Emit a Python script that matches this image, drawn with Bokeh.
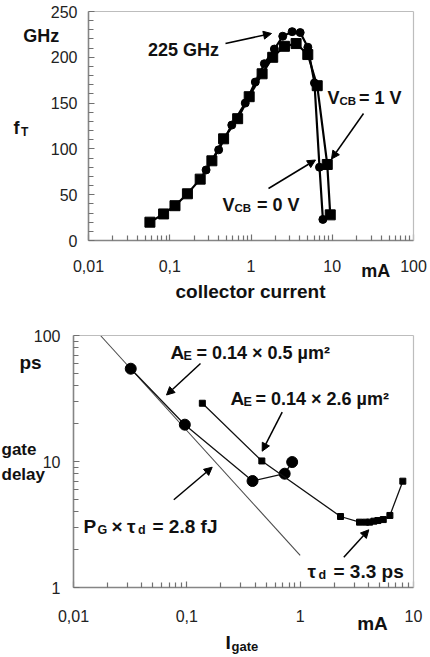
from bokeh.plotting import figure
from bokeh.layouts import column
from bokeh.models import (FixedTicker, CustomJSTickFormatter, Label, Arrow,
                          NormalHead, Range1d, LogAxis, LinearAxis)
from bokeh.embed import file_html
from bokeh.resources import INLINE

# ---------------- data: top panel (fT vs collector current) ----------------
ic_vcb0 = [0.28, 0.40, 0.58, 0.85, 1.13, 1.46, 1.94, 2.46, 3.21, 4.03, 5.01, 6.04, 6.97, 7.67]
ft_vcb0 = [77, 99, 126, 150, 173, 193, 209, 223, 228, 227, 211, 172, 80, 23]
ic_vcb1 = [0.057, 0.084, 0.116, 0.165, 0.237, 0.33, 0.46, 0.685, 0.95, 1.37, 1.85,
           2.58, 3.59, 5.0, 6.53, 8.68, 9.45]
ft_vcb1 = [20, 29, 38, 51, 67, 87, 111, 133, 157, 182, 200, 212, 215, 203, 169, 83, 28]

top_x_ticks = [0.01, 0.1, 1, 10, 100]
top_y_ticks = [0, 50, 100, 150, 200, 250]

# ---------------- data: bottom panel (gate delay vs gate current) ----------
ig_ae05 = [0.032, 0.096, 0.38, 0.73, 0.85]
td_ae05 = [54.5, 19.6, 7.0, 8.0, 9.9]
ig_ae26 = [0.137, 0.459, 2.27, 3.34, 3.78, 4.1, 4.47, 4.85, 5.41, 6.19, 8.05]
td_ae26 = [29.0, 10.1, 3.66, 3.30, 3.30, 3.30, 3.36, 3.40, 3.46, 3.73, 6.98]
ig_energy = [0.0173, 1.0]
td_energy = [100, 1.8]

bot_x_ticks = [0.01, 0.1, 1, 10]
bot_y_ticks = [1, 10, 100]

# minor tick positions
log_minor_x = [m * 10.0 ** k for k in range(-2, 2) for m in range(2, 10)]
log_minor_y = [m * 10.0 ** k for k in range(0, 2) for m in range(2, 10)]
lin_minor_y = [v for v in range(10, 250, 10) if v % 50]

FONT = "Liberation Sans"
W = 430
TOP_H, BOT_H = 320, 337
TEXT_LIFT = 6  # baseline correction for label rendering

# ---------------- layout geometry (pixels of the page) ----------------
T_X0, T_DEC = 88.0, (413.0 - 88.0) / 4
T_Y0, T_YS = 240.0, (240.0 - 11.0) / 250.0
B_X0, B_DEC = 73.0, (413.0 - 73.0) / 3
B_Y0, B_YDEC = 587.0, (587.0 - 335.0) / 2
B_TOP = TOP_H


def tpos(px, py):
    return 10 ** ((px - T_X0) / T_DEC - 2), (T_Y0 - py) / T_YS


def bpos(px, py):
    return 10 ** ((px - B_X0) / B_DEC - 2), 10 ** ((B_Y0 - py) / B_YDEC)


fmt_code = "return tick < 1 ? String(tick).replace('.', ',') : String(tick);"


def style_axis(ax, standoff):
    ax.axis_line_color = "#858585"
    ax.axis_line_width = 1.6
    ax.major_tick_in = 6
    ax.major_tick_out = 0
    ax.minor_tick_in = 5
    ax.minor_tick_out = 0
    ax.major_tick_line_color = "#707070"
    ax.minor_tick_line_color = "#707070"
    ax.major_tick_line_width = 1.2
    ax.minor_tick_line_width = 1.2
    ax.major_label_text_font = FONT
    ax.major_label_text_font_size = "16px"
    ax.major_label_text_color = "#222222"
    ax.major_label_standoff = standoff


def border_axis(cls, loc, bounds):
    return cls(fixed_location=loc, bounds=bounds, ticker=FixedTicker(ticks=[]),
               axis_line_color="#bdbdbd", axis_line_width=1.2,
               major_tick_line_color=None, minor_tick_line_color=None,
               major_label_text_font_size="0px")


def base_fig(h, xr, yr, ytype):
    p = figure(width=W, height=h, x_axis_type="log", y_axis_type=ytype,
               x_range=xr, y_range=yr, toolbar_location=None,
               output_backend="svg", min_border=0, min_border_left=0,
               min_border_right=0, min_border_top=0, min_border_bottom=0)
    p.xgrid.visible = False
    p.ygrid.visible = False
    p.outline_line_color = None
    p.background_fill_color = "white"
    p.border_fill_color = "white"
    return p


def txt(p, conv, px, py, text, size=18, align="left", bold=True):
    x, y = conv(px, py - TEXT_LIFT)
    p.add_layout(Label(x=x, y=y, text=text, text_font=FONT,
                       text_font_size=f"{size}px",
                       text_font_style="bold" if bold else "normal",
                       text_align=align, text_baseline="alphabetic",
                       text_color="#111111"))


def arrow(p, a, b):
    p.add_layout(Arrow(end=NormalHead(size=8, fill_color="black", line_color="black"),
                       x_start=a[0], y_start=a[1], x_end=b[0], y_end=b[1],
                       line_color="black", line_width=1.5))


# ============================ top figure ============================
t_xr = Range1d(tpos(0, 0)[0], tpos(W, 0)[0])
t_yr = Range1d(tpos(0, TOP_H)[1], tpos(0, 0)[1])
top = base_fig(TOP_H, t_xr, t_yr, "linear")

xa = top.xaxis[0]
xa.fixed_location = top_y_ticks[0]
xa.bounds = (top_x_ticks[0], top_x_ticks[-1])
xa.ticker = FixedTicker(ticks=top_x_ticks, minor_ticks=log_minor_x)
xa.formatter = CustomJSTickFormatter(code=fmt_code)
style_axis(xa, 19)
ya = top.yaxis[0]
ya.fixed_location = top_x_ticks[0]
ya.bounds = (top_y_ticks[0], top_y_ticks[-1])
ya.ticker = FixedTicker(ticks=top_y_ticks, minor_ticks=lin_minor_y)
style_axis(ya, 11)
top.add_layout(border_axis(LogAxis, top_y_ticks[-1], (top_x_ticks[0], top_x_ticks[-1])), "above")
top.add_layout(border_axis(LinearAxis, top_x_ticks[-1], (top_y_ticks[0], top_y_ticks[-1])), "right")

top.line(ic_vcb0, ft_vcb0, line_color="black", line_width=2.2)
top.scatter(ic_vcb0, ft_vcb0, marker="circle", size=8, color="black")
top.line(ic_vcb1, ft_vcb1, line_color="black", line_width=2.2)
top.scatter(ic_vcb1, ft_vcb1, marker="square", size=10, color="black")

txt(top, tpos, 22.7, 41.7, "GHz")
txt(top, tpos, 13, 133, "f")
txt(top, tpos, 20.5, 137, "T", size=12)
txt(top, tpos, 147.5, 55, "225 GHz")
arrow(top, tpos(225, 43), tpos(271, 33))
txt(top, tpos, 327, 103.5, "V")
txt(top, tpos, 339, 106.5, "CB", size=11.5)
txt(top, tpos, 358.5, 103.5, "= 1 V")
arrow(top, tpos(363, 113), tpos(331, 158.5))
txt(top, tpos, 222, 210, "V")
txt(top, tpos, 234, 213, "CB", size=11.5)
txt(top, tpos, 256.5, 210, "= 0 V")
arrow(top, tpos(268, 188), tpos(315, 159.5))
txt(top, tpos, 360.7, 276.7, "mA")
txt(top, tpos, 250, 297, "collector current", size=19, align="center")

# ============================ bottom figure ============================
b_xr = Range1d(bpos(0, B_TOP)[0], bpos(W, B_TOP)[0])
b_yr = Range1d(bpos(0, B_TOP + BOT_H)[1], bpos(0, B_TOP)[1])
bot = base_fig(BOT_H, b_xr, b_yr, "log")

xb = bot.xaxis[0]
xb.fixed_location = bot_y_ticks[0]
xb.bounds = (bot_x_ticks[0], bot_x_ticks[-1])
xb.ticker = FixedTicker(ticks=bot_x_ticks, minor_ticks=log_minor_x[:24])
xb.formatter = CustomJSTickFormatter(code=fmt_code)
style_axis(xb, 22)
yb = bot.yaxis[0]
yb.fixed_location = bot_x_ticks[0]
yb.bounds = (bot_y_ticks[0], bot_y_ticks[-1])
yb.ticker = FixedTicker(ticks=bot_y_ticks, minor_ticks=log_minor_y)
yb.formatter = CustomJSTickFormatter(code=fmt_code)
style_axis(yb, 13)
bot.add_layout(border_axis(LogAxis, bot_y_ticks[-1], (bot_x_ticks[0], bot_x_ticks[-1])), "above")
bot.add_layout(border_axis(LogAxis, bot_x_ticks[-1], (bot_y_ticks[0], bot_y_ticks[-1])), "right")

bot.line(ig_energy, td_energy, line_color="#4a4a4a", line_width=1.1)
bot.line(ig_ae05, td_ae05, line_color="#111111", line_width=1.3)
bot.scatter(ig_ae05, td_ae05, marker="circle", size=11, color="black")
bot.line(ig_ae26, td_ae26, line_color="#111111", line_width=1.3)
bot.scatter(ig_ae26, td_ae26, marker="square", size=6, color="black")

txt(bot, bpos, 19, 367.7, "ps", size=19)
txt(bot, bpos, 1, 455, "gate", size=17)
txt(bot, bpos, 1, 480, "delay", size=17)

txt(bot, bpos, 170, 358, "A", size=19)
txt(bot, bpos, 183, 361.5, "E", size=12.5)
txt(bot, bpos, 196, 358, "= 0.14 × 0.5 µm²", size=18)
arrow(bot, bpos(200, 363), bpos(166, 394.5))

txt(bot, bpos, 230, 404, "A", size=19)
txt(bot, bpos, 243, 407.5, "E", size=12.5)
txt(bot, bpos, 255, 404, "= 0.14 × 2.6 µm²", size=18)
arrow(bot, bpos(281.7, 411.7), bpos(261.7, 450.7))

txt(bot, bpos, 83, 531.7, "P", size=19)
txt(bot, bpos, 97, 535, "G", size=12.5)
txt(bot, bpos, 111, 531.7, "×", size=19)
txt(bot, bpos, 126.5, 531.7, "τ", size=19)
txt(bot, bpos, 137.5, 535, "d", size=12.5)
txt(bot, bpos, 152, 531.7, "= 2.8 fJ", size=19)
arrow(bot, bpos(173.3, 499.3), bpos(211.7, 466.7))

txt(bot, bpos, 307, 577, "τ", size=19)
txt(bot, bpos, 318, 580, "d", size=12.5)
txt(bot, bpos, 333, 577, "= 3.3 ps", size=19)
arrow(bot, bpos(343.3, 556.7), bpos(368.3, 529.3))

txt(bot, bpos, 356.7, 629, "mA", size=19)
txt(bot, bpos, 225, 648, "I", size=19)
txt(bot, bpos, 231, 652, "gate", size=13)

layout = column(top, bot)
open("out.html", "w").write(file_html(layout, INLINE))
